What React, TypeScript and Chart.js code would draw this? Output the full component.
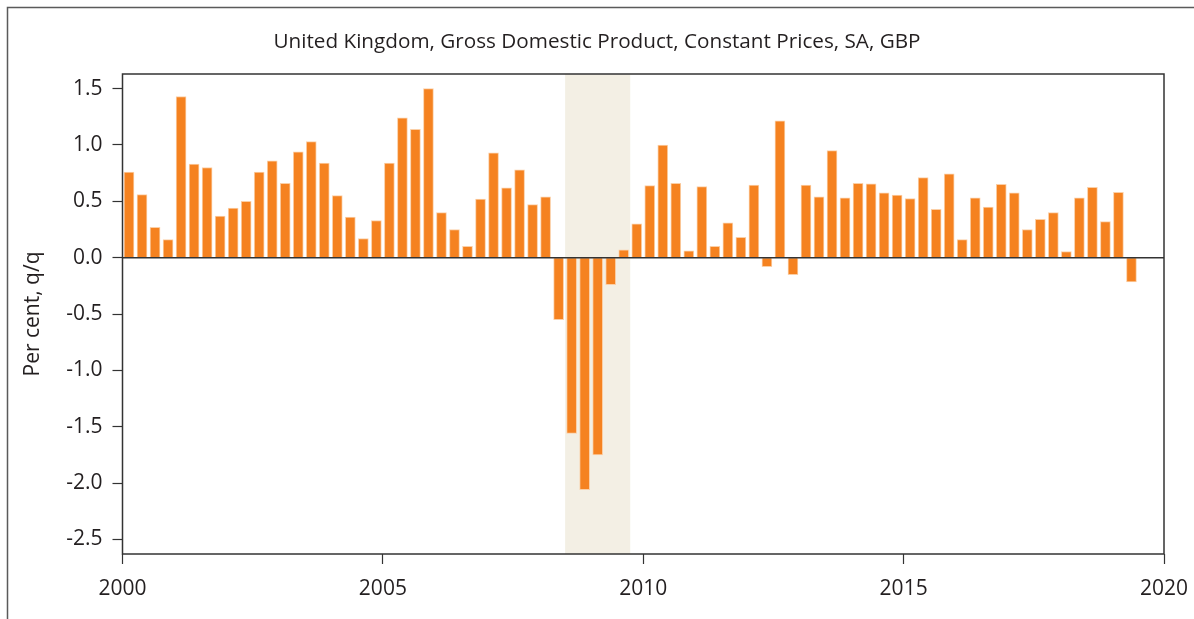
import React, { useEffect, useRef } from "react";
import { Chart, registerables } from "chart.js";

Chart.register(...registerables);

const titleText = "United Kingdom, Gross Domestic Product, Constant Prices, SA, GBP";
const yAxisTitle = "Per cent, q/q";

const quarterLabels = [
  "2000Q1", "2000Q2", "2000Q3", "2000Q4",
  "2001Q1", "2001Q2", "2001Q3", "2001Q4",
  "2002Q1", "2002Q2", "2002Q3", "2002Q4",
  "2003Q1", "2003Q2", "2003Q3", "2003Q4",
  "2004Q1", "2004Q2", "2004Q3", "2004Q4",
  "2005Q1", "2005Q2", "2005Q3", "2005Q4",
  "2006Q1", "2006Q2", "2006Q3", "2006Q4",
  "2007Q1", "2007Q2", "2007Q3", "2007Q4",
  "2008Q1", "2008Q2", "2008Q3", "2008Q4",
  "2009Q1", "2009Q2", "2009Q3", "2009Q4",
  "2010Q1", "2010Q2", "2010Q3", "2010Q4",
  "2011Q1", "2011Q2", "2011Q3", "2011Q4",
  "2012Q1", "2012Q2", "2012Q3", "2012Q4",
  "2013Q1", "2013Q2", "2013Q3", "2013Q4",
  "2014Q1", "2014Q2", "2014Q3", "2014Q4",
  "2015Q1", "2015Q2", "2015Q3", "2015Q4",
  "2016Q1", "2016Q2", "2016Q3", "2016Q4",
  "2017Q1", "2017Q2", "2017Q3", "2017Q4",
  "2018Q1", "2018Q2", "2018Q3", "2018Q4",
  "2019Q1", "2019Q2",
];

const gdpGrowth = [
  0.76, 0.56, 0.27, 0.16,
  1.43, 0.83, 0.80, 0.37,
  0.44, 0.50, 0.76, 0.86,
  0.66, 0.94, 1.03, 0.84,
  0.55, 0.36, 0.17, 0.33,
  0.84, 1.24, 1.14, 1.50,
  0.40, 0.25, 0.10, 0.52,
  0.93, 0.62, 0.78, 0.47,
  0.54, -0.55, -1.56, -2.06,
  -1.75, -0.24, 0.07, 0.30,
  0.64, 1.00, 0.66, 0.06,
  0.63, 0.10, 0.31, 0.18,
  0.645, -0.08, 1.215, -0.15,
  0.645, 0.54, 0.95, 0.53,
  0.66, 0.655, 0.575, 0.556,
  0.525, 0.71, 0.43, 0.745,
  0.16, 0.53, 0.45, 0.65,
  0.575, 0.25, 0.34, 0.40,
  0.055, 0.53, 0.625, 0.32,
  0.58, -0.215,
];

const xTickValues = [2000, 2005, 2010, 2015, 2020];
const yTickValues = [-2.5, -2.0, -1.5, -1.0, -0.5, 0.0, 0.5, 1.0, 1.5];
const xRange = [2000, 2020];
const yRange = [-2.63, 1.63];
const recessionSpan = [2008.5, 2009.75];

const FONT = "'Open Sans', 'Noto Sans', sans-serif";
const TEXT = "#231f20";
const BAR = "#f58220";
const SHADE = "#f3efe4";
const AXIS = "#333333";

function quarterToX(label: string): number {
  const year = parseInt(label.slice(0, 4), 10);
  const q = parseInt(label.slice(5), 10);
  return year + (q - 0.5) / 4;
}

const decorPlugin = {
  id: "decor",
  beforeDatasetsDraw(chart: any) {
    const { ctx, chartArea, scales } = chart;
    const x0 = scales.x.getPixelForValue(recessionSpan[0]);
    const x1 = scales.x.getPixelForValue(recessionSpan[1]);
    ctx.save();
    ctx.fillStyle = SHADE;
    ctx.fillRect(x0, chartArea.top, x1 - x0, chartArea.bottom - chartArea.top);
    ctx.restore();
  },
  afterDatasetsDraw(chart: any) {
    const { ctx, chartArea, scales } = chart;
    ctx.save();
    const y0 = scales.y.getPixelForValue(0);
    ctx.strokeStyle = AXIS;
    ctx.lineWidth = 1.5;
    ctx.beginPath();
    ctx.moveTo(chartArea.left, y0);
    ctx.lineTo(chartArea.right, y0);
    ctx.stroke();
    ctx.strokeRect(chartArea.left, chartArea.top, chartArea.right - chartArea.left, chartArea.bottom - chartArea.top);
    ctx.strokeStyle = "#5a5a5a";
    ctx.lineWidth = 1.5;
    ctx.beginPath();
    ctx.moveTo(7.5, chart.height);
    ctx.lineTo(7.5, 7.5);
    ctx.lineTo(chart.width, 7.5);
    ctx.stroke();
    ctx.restore();
  },
};

export default function App() {
  const ref = useRef<HTMLCanvasElement | null>(null);

  useEffect(() => {
    if (!ref.current) return;
    const points = quarterLabels.map((lab, i) => ({ x: quarterToX(lab), y: gdpGrowth[i] }));
    const chart = new Chart(ref.current, {
      type: "bar",
      data: {
        datasets: [
          {
            label: "GDP",
            data: points as any,
            backgroundColor: BAR,
            borderColor: "#fbcfa6",
            borderWidth: 1,
            barThickness: 10,
          },
        ],
      },
      options: {
        responsive: false,
        animation: false,
        devicePixelRatio: 1,
        layout: { padding: 0 },
        plugins: {
          legend: { display: false },
          tooltip: { enabled: false },
          title: {
            display: true,
            text: titleText,
            color: TEXT,
            font: { family: FONT, size: 20.7, weight: "normal", lineHeight: 1.2 },
            padding: { top: 29.6, bottom: 19.56 },
          },
        },
        scales: {
          x: {
            type: "linear",
            min: xRange[0],
            max: xRange[1],
            offset: false,
            afterBuildTicks: (s: any) => {
              s.ticks = xTickValues.map((v) => ({ value: v }));
            },
            afterFit: (s: any) => {
              s.height = 65;
            },
            ticks: {
              color: TEXT,
              font: { family: FONT, size: 21, lineHeight: 2.15 },
              padding: 2,
              maxRotation: 0,
              callback: (v: any) => String(v),
            },
            grid: {
              offset: false,
              drawOnChartArea: false,
              drawTicks: true,
              tickLength: 10,
              tickColor: AXIS,
              tickWidth: 1.2,
            },
            border: { display: false },
          },
          y: {
            type: "linear",
            position: "left",
            min: yRange[0],
            max: yRange[1],
            afterBuildTicks: (s: any) => {
              s.ticks = yTickValues.map((v) => ({ value: v }));
            },
            afterFit: (s: any) => {
              s.width = 122.5;
            },
            ticks: {
              color: TEXT,
              font: { family: FONT, size: 21 },
              padding: 10,
              callback: (v: any) => Number(v).toFixed(1),
            },
            grid: {
              drawOnChartArea: false,
              drawTicks: true,
              tickLength: 10,
              tickColor: AXIS,
              tickWidth: 1.2,
            },
            border: { display: false },
            title: {
              display: true,
              text: yAxisTitle,
              color: TEXT,
              font: { family: FONT, size: 21, lineHeight: 1.2 },
              padding: { top: 20.4, bottom: 0 },
            },
          },
          y2: {
            type: "linear",
            position: "right",
            display: true,
            ticks: { display: false },
            grid: { display: false },
            border: { display: false },
            afterFit: (s: any) => {
              s.width = 30;
            },
          },
        },
      },
      plugins: [decorPlugin],
    });
    return () => chart.destroy();
  }, []);

  return (
    <div style={{ position: "fixed", left: 0, top: 0, width: 1194, height: 619, background: "#fff" }}>
      <canvas ref={ref} width={1194} height={619} style={{ display: "block" }} />
    </div>
  );
}
